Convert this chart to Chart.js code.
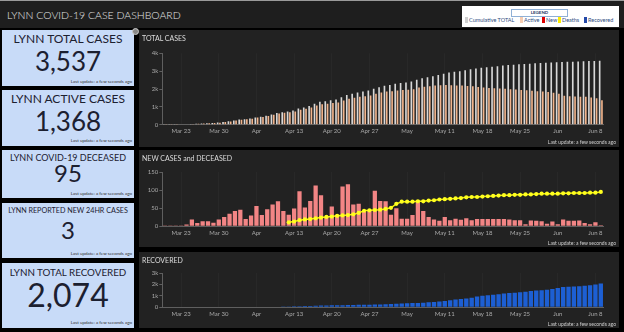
<!DOCTYPE html>
<html><head><meta charset="utf-8">
<script src="https://cdn.jsdelivr.net/npm/chart.js@4.4.0/dist/chart.umd.min.js"></script>
<style>
html,body{margin:0;padding:0;background:#000;width:624px;height:332px;overflow:hidden;font-family:Lato,"Open Sans",sans-serif;}
#bar{position:absolute;left:0;top:0;width:624px;height:28px;background:#1e1e1e;border-top:1px solid #9a9a9a;box-sizing:border-box}
#title{position:absolute;left:7px;top:9px;color:#e6e6e6;font-size:10.5px;line-height:1;font-weight:300;white-space:nowrap}
#legend{position:absolute;left:462px;top:5px;width:157px;height:21px;background:#fff}
#legbox{position:absolute;left:49px;top:3px;width:55px;height:6px;border:1px solid #8fb0d6;font-size:4.5px;line-height:6px;font-weight:bold;text-align:center;color:#1f3a66}
.li{position:absolute;top:11px;font-size:5.5px;line-height:7px;color:#2d4b80;white-space:nowrap}
.sw{display:inline-block;width:3px;height:6px;vertical-align:-1px;margin-right:1px}
.card{position:absolute;left:2px;width:132px;background:#c8dbf8;color:#1c2030;text-align:center}
.card .t{position:absolute;left:0;width:100%;white-space:nowrap;line-height:1;color:#1c2030}
.card .n{position:absolute;left:0;width:100%;line-height:1}
.card .u{position:absolute;right:2px;font-size:4.5px;line-height:1;color:#333;white-space:nowrap}
.panel{position:absolute;left:139px;width:480px;background:#222}
.ptitle{position:absolute;left:3px;top:5px;color:#dcdcdc;font-size:7px;line-height:1;white-space:nowrap}
.pupd{position:absolute;right:3px;color:#d0d0d0;font-size:5px;line-height:1;white-space:nowrap}
canvas{position:absolute;left:0;top:0}
#icon{position:absolute;left:132px;top:28px;width:5px;height:5px;border-radius:50%;background:#888;border:1px solid #ccc}
</style>
</head><body>
<div id="bar"><div id="title">LYNN COVID-19 CASE DASHBOARD</div>
<div id="legend"><div id="legbox">LEGEND</div>
<span class="li" style="left:3px"><span class="sw" style="background:#d0d0d0"></span>Cumulative TOTAL</span>
<span class="li" style="left:58px"><span class="sw" style="background:#f6cdb2"></span>Active</span>
<span class="li" style="left:80px"><span class="sw" style="background:#e00000"></span>New</span>
<span class="li" style="left:96px"><span class="sw" style="background:#ffee00"></span>Deaths</span>
<span class="li" style="left:122px"><span class="sw" style="background:#2448a8"></span>Recovered</span>
</div></div>

<div class="card" style="top:30px;height:56px">
 <div class="t" style="top:2.5px;font-size:12px">LYNN TOTAL CASES</div>
 <div class="n" style="top:18px;font-size:26px">3,537</div>
 <div class="u" style="top:50px">Last update: a few seconds ago</div>
</div>
<div class="card" style="top:90px;height:56px">
 <div class="t" style="top:3px;font-size:12px">LYNN ACTIVE CASES</div>
 <div class="n" style="top:18px;font-size:26px">1,368</div>
 <div class="u" style="top:49px">Last update: a few seconds ago</div>
</div>
<div class="card" style="top:150px;height:48px">
 <div class="t" style="top:2.5px;font-size:9px">LYNN COVID-19 DECEASED</div>
 <div class="n" style="top:11px;font-size:24px">95</div>
 <div class="u" style="top:42px">Last update: a few seconds ago</div>
</div>
<div class="card" style="top:203px;height:55px">
 <div class="t" style="top:4px;font-size:7.2px">LYNN REPORTED NEW 24HR CASES</div>
 <div class="n" style="top:15px;font-size:24px">3</div>
 <div class="u" style="top:49px">Last update: a few seconds ago</div>
</div>
<div class="card" style="top:263px;height:65px">
 <div class="t" style="top:5px;font-size:9.8px">LYNN TOTAL RECOVERED</div>
 <div class="n" style="top:16px;font-size:32px">2,074</div>
 <div class="u" style="top:58px">Last update: a few seconds ago</div>
</div>
<div id="icon"></div>

<div class="panel" style="top:30px;height:117px"><canvas id="c1" width="480" height="117"></canvas>
 <div class="ptitle">TOTAL CASES</div><div class="pupd" style="top:110px">Last update: a few seconds ago</div></div>
<div class="panel" style="top:150px;height:97px"><canvas id="c2" width="480" height="97"></canvas>
 <div class="ptitle">NEW CASES and DECEASED</div><div class="pupd" style="top:91px">Last update: a few seconds ago</div></div>
<div class="panel" style="top:252px;height:76px"><canvas id="c3" width="480" height="76"></canvas>
 <div class="ptitle">RECOVERED</div><div class="pupd" style="top:70px">Last update: a few seconds ago</div></div>

<script>
const categories = ['Mar 20','Mar 21','Mar 22','Mar 23','Mar 24','Mar 25','Mar 26','Mar 27','Mar 28','Mar 29','Mar 30','Mar 31',
'Apr 1','Apr 2','Apr 3','Apr 4','Apr 5','Apr 6','Apr 7','Apr 8','Apr 9','Apr 10','Apr 11','Apr 12','Apr 13','Apr 14','Apr 15','Apr 16','Apr 17','Apr 18','Apr 19','Apr 20','Apr 21','Apr 22','Apr 23','Apr 24','Apr 25','Apr 26','Apr 27','Apr 28','Apr 29','Apr 30',
'May 1','May 2','May 3','May 4','May 5','May 6','May 7','May 8','May 9','May 10','May 11','May 12','May 13','May 14','May 15','May 16','May 17','May 18','May 19','May 20','May 21','May 22','May 23','May 24','May 25','May 26','May 27','May 28','May 29','May 30','May 31',
'Jun 1','Jun 2','Jun 3','Jun 4','Jun 5','Jun 6','Jun 7','Jun 8','Jun 9'];
const tickDays   = ['Mar 23','Mar 30','Apr 6','Apr 13','Apr 20','Apr 27','May 4','May 11','May 18','May 25','Jun 1','Jun 8'];
const tickLabels = ['Mar 23','Mar 30','Apr','Apr 13','Apr 20','Apr 27','May','May 11','May 18','May 25','Jun','Jun 8'];

const cumulativeTotal = [8,12,16,20,26,45,55,70,85,96,118,148,188,235,285,310,345,410,445,500,570,650,700,740,800,910,970,1050,1180,1280,1310,1375,1410,1540,1670,1740,1810,1860,1910,2020,2100,2180,2230,2290,2330,2370,2420,2520,2600,2660,2720,2780,2860,2920,2960,3000,3050,3100,3150,3190,3220,3250,3280,3310,3340,3360,3380,3400,3420,3440,3460,3470,3490,3500,3510,3520,3530,3545,3555,3565,3575,3585];
const activeCases = [8,12,16,20,26,44,54,68,83,94,115,145,184,230,278,302,336,398,432,485,552,628,676,700,745,840,890,960,1070,1150,1170,1220,1240,1350,1460,1510,1560,1600,1640,1740,1800,1860,1880,1920,1940,1960,1990,2080,2120,2150,2190,2210,2220,2215,2200,2190,2170,2150,2110,2080,2060,2040,2030,2010,1990,1970,1950,1930,1900,1880,1860,1830,1790,1730,1620,1600,1580,1560,1560,1520,1480,1368];
const newCases = [2,2,2,2,5,19,9,14,14,10,19,26,35,42,46,20,30,56,31,47,60,69,42,32,49,97,52,70,113,86,26,55,31,110,116,60,62,40,42,98,70,69,32,50,21,21,31,71,42,26,19,15,26,17,21,18,22,17,20,20,20,20,20,20,19,17,17,6,16,15,14,7,13,6,19,15,15,16,9,6,11,3];
const deaths = [null,null,null,null,null,null,null,null,null,null,null,null,null,null,null,null,null,null,null,null,null,null,null,
11,13,17,19,20,22,24,26,27,29,30,31,33,37,43,44,45,46,48,51,62,68,68,68,69,69,71,72,74,75,76,77,78,80,81,81,82,83,84,85,86,86,87,87,88,88,89,90,90,90,90,91,91,92,92,92,93,93,95];
const recovered = [null,null,null,null,null,null,null,null,null,null,null,null,null,null,null,null,null,null,null,null,null,null,
60,80,90,100,110,120,130,150,160,170,180,190,200,210,220,225,230,240,250,270,290,310,330,350,370,380,400,440,460,500,560,620,680,720,780,840,940,1000,1050,1100,1150,1200,1250,1280,1320,1360,1420,1460,1500,1540,1600,1680,1780,1800,1820,1850,1880,1920,1990,2074];

Chart.defaults.font.family = 'Lato, "Open Sans", sans-serif';
Chart.defaults.animation = false;

const Y_W = 23.3, PAD_R = 15.5;
function tickText(i){ const k = tickDays.indexOf(categories[i]); return k >= 0 ? tickLabels[k] : ''; }
function kFmt(v){ return v === 0 ? '0' : (v/1000) + 'k'; }
function xAxis(h){
  return {
    type:'category', offset:true,
    grid:{display:true, drawTicks:false, offset:false, lineWidth:1,
      color:(c)=> tickText(c.index) ? 'rgba(255,255,255,0.03)' : 'rgba(0,0,0,0)'},
    border:{display:true, color:'#5f5f5f', width:1},
    ticks:{autoSkip:false, maxRotation:0, minRotation:0, padding:3, color:'#a8a8a8', font:{size:6},
      callback:(v,i)=>tickText(i)},
    afterFit:(s)=>{ s.height = h; }
  };
}
function yAxis(max, step, fmt){
  return {
    min:0, max:max,
    ticks:{stepSize:step, padding:1, color:'#a8a8a8', font:{size:6}, callback:fmt},
    grid:{drawOnChartArea:false, drawTicks:true, tickLength:3, color:'#5f5f5f'},
    border:{display:true, color:'#5f5f5f', width:1},
    afterFit:(s)=>{ s.width = Y_W; }
  };
}
function opts(top, xh, max, step, fmt){
  return {
    responsive:false, animation:false,
    layout:{padding:{top:top, right:PAD_R, left:0, bottom:0}},
    plugins:{legend:{display:false}, tooltip:{enabled:false}},
    scales:{x:xAxis(xh), y:yAxis(max, step, fmt)}
  };
}

new Chart(document.getElementById('c1'), {
  type:'bar',
  data:{labels:categories, datasets:[
    {label:'Cumulative TOTAL', data:cumulativeTotal, backgroundColor:'#d8d8d8', categoryPercentage:0.85, barPercentage:0.72},
    {label:'Active', data:activeCases, backgroundColor:'#f2b48c', categoryPercentage:0.85, barPercentage:0.72}
  ]},
  options:opts(23.3, 22.3, 4000, 1000, kFmt)
});

new Chart(document.getElementById('c2'), {
  type:'bar',
  data:{labels:categories, datasets:[
    {type:'line', label:'Deaths', data:deaths, borderColor:'#f5f500', borderWidth:1.5, pointRadius:2.1,
     pointBackgroundColor:'#ffff20', pointBorderWidth:0, spanGaps:false, tension:0, order:0},
    {type:'bar', label:'New', data:newCases, backgroundColor:'#f28585', categoryPercentage:0.92, barPercentage:0.86, order:1}
  ]},
  options:opts(22, 20.7, 150, 50, (v)=>String(v))
});

new Chart(document.getElementById('c3'), {
  type:'bar',
  data:{labels:categories, datasets:[
    {label:'Recovered', data:recovered, backgroundColor:'#1d5fd3', categoryPercentage:0.92, barPercentage:0.88}
  ]},
  options:opts(21, 20.7, 3000, 1000, kFmt)
});
</script>
</body></html>
